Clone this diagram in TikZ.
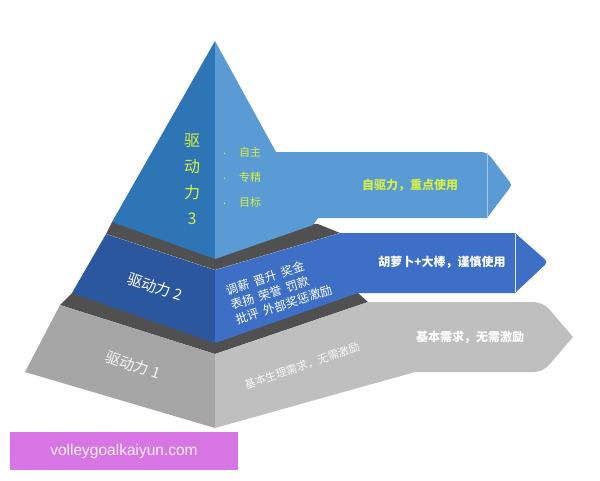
\documentclass[tikz,border=0pt]{standalone}
\usepackage{fontspec}
\setmainfont{Noto Sans CJK SC}
\newfontfamily\latinfont{Liberation Sans}
\definecolor{lthreeL}{HTML}{2E75B6}
\definecolor{lthreeR}{HTML}{5B9BD5}
\definecolor{ltwoL}{HTML}{2B579F}
\definecolor{ltwoR}{HTML}{3D6FC6}
\definecolor{loneL}{HTML}{A6A6A6}
\definecolor{loneR}{HTML}{BFBFBF}
\definecolor{topface}{HTML}{505050}
\definecolor{ygreen}{HTML}{D4F044}
\definecolor{wmark}{HTML}{D466E3}
\tikzset{
  face/.style={draw=none},
  sepline/.style={line width=0.8pt},
  edgedots/.style={densely dotted, line width=0.4pt, white!70!gray},
  lbl/.style={inner sep=0pt, font=#1},
  lbl/.default={\fontsize{12}{14}\selectfont}
}
\newcommand{\bul}{{\scriptsize\textbullet}\hspace{11pt}}
\begin{document}
\begin{tikzpicture}[x=1pt,y=-1pt]
\useasboundingbox (0,0) rectangle (600,480);
\fill[white] (0,0) rectangle (600,480);
% ---------- level 1 ----------
\fill[topface] (60,305) -- (215,354) -- (368,302) -- (358,293) -- (72,293) -- cycle;
\fill[loneL] (60,305) -- (215,354) -- (215,428) -- (25,372) -- cycle;
\fill[loneR] (215,354) -- (368,302) [rounded corners=9pt] -- (543,302) [sharp corners] -- (573,337) [rounded corners=9pt] -- (543,372) [sharp corners] -- (415,372) -- (215,428) -- cycle;
% ---------- level 2 ----------
\fill[topface] (106,234) -- (215,270) -- (340,233) -- (318,224) -- (112,222) -- cycle;
\fill[ltwoL] (106,234) -- (215,270) -- (215,343) -- (72,293) -- cycle;
\fill[ltwoR] (215,270) -- (340,233) -- (515,233) [rounded corners=4pt] -- (548,262) [sharp corners] -- (515,293) -- (358,293) -- (215,343) -- cycle;
\draw[edgedots] (106,234) -- (215,270) -- (340,233);
\coordinate (v2t) at (515,234);
\coordinate (v2b) at (515,292);
\draw[sepline, white!85!ltwoR] (v2t) -- (v2b);
% ---------- level 3 ----------
\fill[lthreeL] (215,41) -- (112,222) -- (215,259) -- cycle;
\fill[lthreeR] (215,41) -- (276,152) [rounded corners=6pt] -- (487,152) [rounded corners=3pt] -- (512,185) [sharp corners] -- (487,218) -- (318,218) -- (313,225) -- (215,259) -- cycle;
\coordinate (v3t) at (487,153);
\coordinate (v3b) at (487,217);
\draw[sepline, white!45!lthreeR] (v3t) -- (v3b);
% ---------- texts ----------
\node[lbl={\fontsize{16}{26}\selectfont}, text=ygreen, align=center] (t3) at (192,179) {驱\\动\\力\\3};
\node[lbl={\fontsize{11}{25}\selectfont}, text=ygreen, align=left, anchor=west] (items) at (221,177) {\bul 自主\\\bul 专精\\\bul 目标};
\node[lbl={\fontsize{12}{14}\selectfont\bfseries}, text=ygreen] (r3) at (410,185) {自驱力，重点使用};
\node[lbl={\fontsize{15}{17}\selectfont}, text=white, rotate=-18] (t2) at (155,287) {驱动力 2};
\node[lbl={\fontsize{12}{15.5}\selectfont}, text=white, rotate=18, align=left] (m2) at (279,290) {调薪\hspace{0.4em}晋升\hspace{0.4em}奖金\\表扬\hspace{0.4em}荣誉\hspace{0.4em}罚款\\批评\hspace{0.4em}外部奖惩激励};
\node[lbl={\fontsize{12}{14}\selectfont\bfseries}, text=white] (r2) at (442,262) {胡萝卜+大棒，谨慎使用};
\node[lbl={\fontsize{15}{17}\selectfont}, text=white!92!gray, rotate=-19] (t1) at (133,365) {驱动力 1};
\node[lbl={\fontsize{11}{13}\selectfont}, text=white!90!loneR, rotate=19] (m1) at (302,366) {基本生理需求，无需激励};
\node[lbl={\fontsize{12}{14}\selectfont\bfseries}, text=white] (r1) at (470,337) {基本需求，无需激励};
% ---------- watermark ----------
\fill[wmark, opacity=0.9] (10,432) rectangle (238,470);
\node[lbl={\latinfont\fontsize{15.5}{18}\selectfont}, text=white!92!wmark] (wm) at (124,451) {volleygoalkaiyun.com};
\end{tikzpicture}
\end{document}
